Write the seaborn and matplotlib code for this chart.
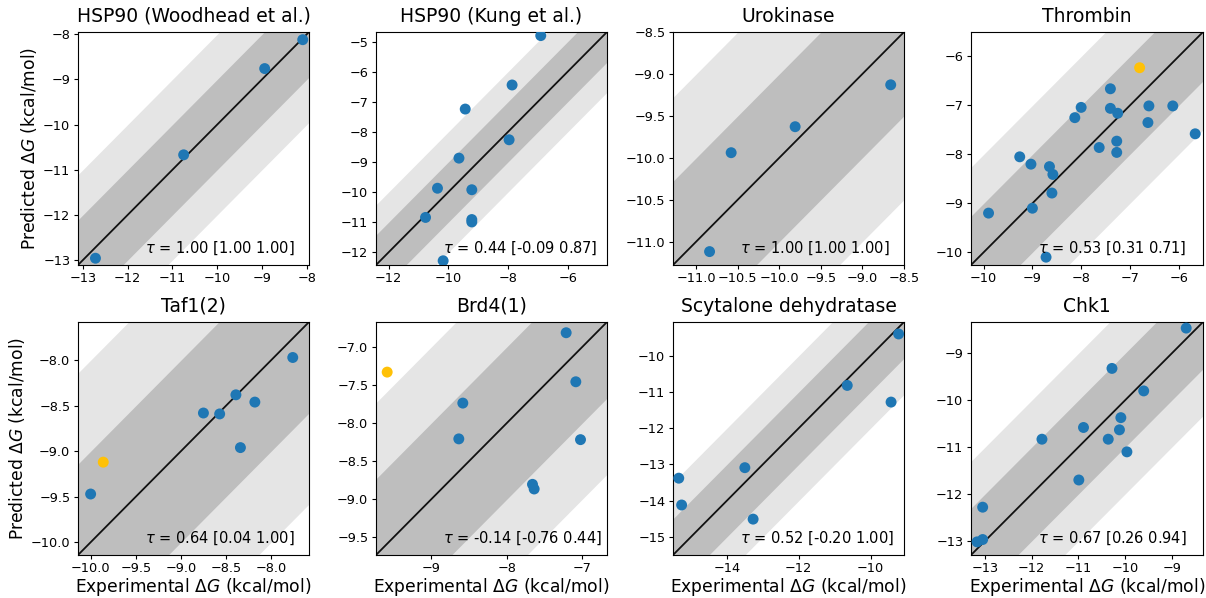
import numpy as np
import pandas as pd
import matplotlib
matplotlib.use("Agg")
import matplotlib.pyplot as plt
import seaborn as sns

# ---- data -------------------------------------------------------------
titles = ["HSP90 (Woodhead et al.)", "HSP90 (Kung et al.)", "Urokinase", "Thrombin",
          "Taf1(2)", "Brd4(1)", "Scytalone dehydratase", "Chk1"]

tau_labels = ["1.00 [1.00 1.00]", "0.44 [-0.09 0.87]", "1.00 [1.00 1.00]", "0.53 [0.31 0.71]",
              "0.64 [0.04 1.00]", "-0.14 [-0.76 0.44]", "0.52 [-0.20 1.00]", "0.67 [0.26 0.94]"]

axis_limits = [[-13.11, -7.95], [-12.42, -4.68], [-11.28, -8.50], [-10.26, -5.50],
               [-10.14, -7.58], [-9.735, -6.675], [-15.50, -9.07], [-13.30, -8.33]]

x_ticks = [[-13, -12, -11, -10, -9, -8], [-12, -10, -8, -6],
           [-11.0, -10.5, -10.0, -9.5, -9.0, -8.5], [-10, -9, -8, -7, -6],
           [-10.0, -9.5, -9.0, -8.5, -8.0], [-9, -8, -7],
           [-14, -12, -10], [-13, -12, -11, -10, -9]]
y_ticks = [[-13, -12, -11, -10, -9, -8], [-12, -11, -10, -9, -8, -7, -6, -5],
           [-11.0, -10.5, -10.0, -9.5, -9.0, -8.5], [-10, -9, -8, -7, -6],
           [-10.0, -9.5, -9.0, -8.5, -8.0], [-9.5, -9.0, -8.5, -8.0, -7.5, -7.0],
           [-15, -14, -13, -12, -11, -10], [-13, -12, -11, -10, -9]]

exp_woodhead = [-12.72, -10.75, -8.94, -8.09]
pred_woodhead = [-12.96, -10.67, -8.76, -8.12]
hl_woodhead = [0, 0, 0, 0]

exp_kung = [-6.90, -7.86, -9.43, -7.96, -9.64, -10.36, -9.21, -10.76, -9.21, -9.21, -10.17]
pred_kung = [-4.80, -6.44, -7.24, -8.26, -8.87, -9.87, -9.92, -10.84, -10.91, -10.99, -12.28]
hl_kung = [0] * 11

exp_uro = [-8.66, -9.81, -10.58, -10.84]
pred_uro = [-9.13, -9.63, -9.94, -11.12]
hl_uro = [0, 0, 0, 0]

exp_thr = [-6.80, -7.40, -8.00, -7.40, -7.25, -6.61, -6.12, -8.13, -6.63, -5.66, -7.27,
           -7.63, -7.27, -9.26, -9.03, -8.65, -8.58, -8.60, -9.00, -9.90, -8.72]
pred_thr = [-6.23, -6.66, -7.04, -7.06, -7.16, -7.01, -7.01, -7.25, -7.35, -7.58, -7.73,
            -7.86, -7.96, -8.05, -8.20, -8.25, -8.41, -8.79, -9.10, -9.20, -10.10]
hl_thr = [1] + [0] * 20

exp_taf = [-7.76, -8.39, -8.18, -8.75, -8.57, -8.34, -9.86, -10.00]
pred_taf = [-7.97, -8.38, -8.46, -8.58, -8.59, -8.96, -9.12, -9.47]
hl_taf = [0, 0, 0, 0, 0, 0, 1, 0]

exp_brd = [-9.587, -7.216, -7.088, -8.585, -8.638, -7.026, -7.662, -7.640]
pred_brd = [-7.333, -6.816, -7.460, -7.740, -8.210, -8.220, -8.807, -8.868]
hl_brd = [1, 0, 0, 0, 0, 0, 0, 0]

exp_scy = [-9.22, -10.65, -9.43, -13.50, -15.34, -15.26, -13.27]
pred_scy = [-9.40, -10.82, -11.28, -13.09, -13.38, -14.12, -14.51]
hl_scy = [0] * 7

exp_chk = [-8.69, -10.28, -9.60, -10.09, -10.89, -10.12, -11.78, -10.36, -9.96, -10.99,
           -13.05, -13.05, -13.17]
pred_chk = [-8.46, -9.32, -9.80, -10.37, -10.58, -10.63, -10.83, -10.83, -11.10, -11.70,
            -12.28, -12.97, -13.02]
hl_chk = [0] * 13

experimental = [exp_woodhead, exp_kung, exp_uro, exp_thr, exp_taf, exp_brd, exp_scy, exp_chk]
predicted = [pred_woodhead, pred_kung, pred_uro, pred_thr, pred_taf, pred_brd, pred_scy, pred_chk]
highlight = [hl_woodhead, hl_kung, hl_uro, hl_thr, hl_taf, hl_brd, hl_scy, hl_chk]

# ---- layout (pixel boxes) -----------------------------------------------
W, H = 1206, 598
col_px = [(78, 309), (376, 607), (673, 904), (971, 1203)]
row_px = [(32, 265), (322, 555)]

BLUE = "#1f77b4"
YELLOW = "#FFC107"
LIGHT = "#e5e5e5"
DARK = "#bebebe"

plt.rcParams['font.family'] = ['DejaVu Sans']
plt.rcParams['xtick.labelsize'] = 9.3
plt.rcParams['ytick.labelsize'] = 9.3
plt.rcParams['xtick.major.size'] = 3
plt.rcParams['ytick.major.size'] = 3
plt.rcParams['xtick.major.pad'] = 2
plt.rcParams['ytick.major.pad'] = 2.5

fig = plt.figure(figsize=(W / 100, H / 100), dpi=100)

for i in range(8):
    r, c = divmod(i, 4)
    l, rr = col_px[c]
    t, b = row_px[r]
    ax = fig.add_axes([l / W, (H - b) / H, (rr - l) / W, (b - t) / H])
    lims = np.array(axis_limits[i])
    ax.fill_between(lims, lims - 2, lims + 2, color=LIGHT, linewidth=0, zorder=0)
    ax.fill_between(lims, lims - 1, lims + 1, color=DARK, linewidth=0, zorder=1)
    ax.plot(lims, lims, color="#111111", lw=1.3, zorder=2)
    df = pd.DataFrame({"exp": experimental[i], "pred": predicted[i],
                       "hl": [bool(h) for h in highlight[i]]})
    sns.scatterplot(data=df, x="exp", y="pred", hue="hl",
                    palette={False: BLUE, True: YELLOW}, s=62, linewidth=0,
                    legend=False, ax=ax, zorder=3)
    ax.set_xticks(x_ticks[i])
    ax.set_yticks(y_ticks[i])
    ax.set_xlim(lims)
    ax.set_ylim(lims)
    ax.set_title(titles[i], fontsize=13.5, pad=7.5)
    ax.text(0.29, 0.035, r"$\tau$ = " + tau_labels[i], transform=ax.transAxes,
            ha="left", va="bottom", fontsize=10.5, zorder=4)
    ax.set_xlabel(r"Experimental $\Delta G$ (kcal/mol)" if r == 1 else "", fontsize=12.3,
                  labelpad=1)
    ax.set_ylabel(r"Predicted $\Delta G$ (kcal/mol)" if c == 0 else "", fontsize=12.3,
                  labelpad=3)

fig.savefig("out.png", dpi=100)
